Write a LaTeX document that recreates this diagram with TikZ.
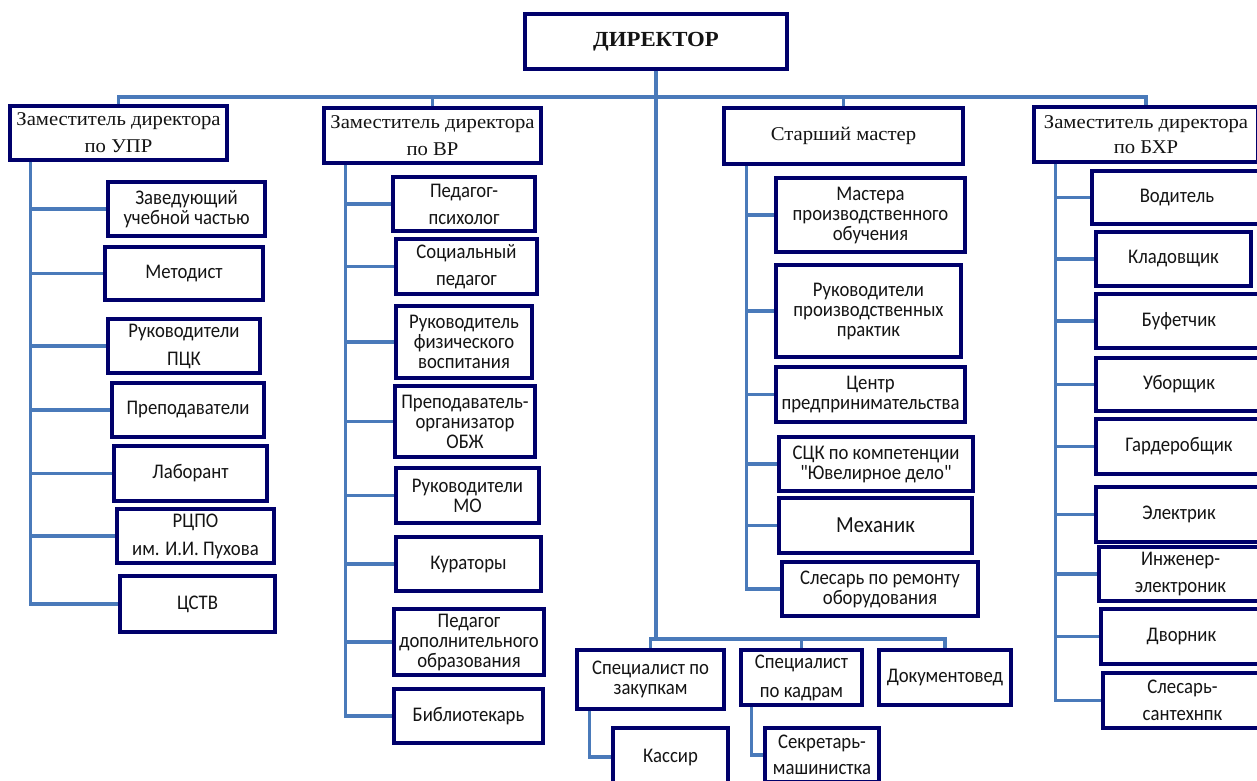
\documentclass[tikz,border=0pt]{standalone}
\usepackage{fontspec}
\setmainfont{Carlito}[FakeStretch=0.9, Ligatures=TeXOff]
\newfontfamily\hdfont{Liberation Serif}[FakeStretch=1.06]
\usetikzlibrary{calc}
\colorlet{navy}{blue!42!black}
\definecolor{lnk}{RGB}{74,122,186}
\definecolor{txt}{RGB}{20,20,20}

\begin{document}
\begin{tikzpicture}[x=1pt,y=-1pt,
    unit/.style={draw=navy, line width=3.3pt, fill=white, inner sep=0pt,
        align=center, text=txt, font=\fontsize{20.8}{20}\selectfont},
    head/.style={unit, font=\hdfont\fontsize{19.5}{27}\selectfont},
    link/.style={draw=lnk, line width=3.1pt}
]
    \useasboundingbox (0,0) rectangle (1257,780);
    \clip (0,0) rectangle (1257,780);
    % top level
    \node[unit, minimum width=262pt, minimum height=55pt,
        font=\hdfont\bfseries\fontsize{21.5}{24}\selectfont] (dir) at (656,41.5) {ДИРЕКТОР};
    \node[head, minimum width=217pt, minimum height=54pt] (upr) at (118.5,133) {Заместитель директора\\по УПР};
    \node[head, minimum width=217pt, minimum height=55pt] (vr) at (432.5,135.5) {Заместитель директора\\по ВР};
    \node[head, minimum width=239pt, minimum height=56pt] (sm) at (843.5,136) {Старший мастер};
    \node[head, minimum width=224pt, minimum height=55pt, font=\hdfont\fontsize{19.5}{25}\selectfont] (bxr) at (1146,134.5) {Заместитель директора\\по БХР};
    % column 1
    \node[unit, minimum width=157pt, minimum height=54pt] (zav) at (186.5,209) {Заведующий\\учебной частью};
    \node[unit, minimum width=158pt, minimum height=53pt] (met) at (184,273.5) {Методист};
    \node[unit, minimum width=152pt, minimum height=54pt] (pck) at (184,346) {Руководители\\[8pt]ПЦК};
    \node[unit, minimum width=152pt, minimum height=54pt] (prep) at (188,410) {Преподаватели};
    \node[unit, minimum width=153pt, minimum height=55pt] (lab) at (190.5,473.5) {Лаборант};
    \node[unit, minimum width=157pt, minimum height=54pt] (rcpo) at (195.5,536) {РЦПО\\[8pt]им. И.И. Пухова};
    \node[unit, minimum width=155pt, minimum height=56pt] (cstv) at (197.5,604) {ЦСТВ};
    % column 2
    \node[unit, minimum width=142pt, minimum height=54pt] (psy) at (464,204) {Педагог-\\[7pt]психолог};
    \node[unit, minimum width=141pt, minimum height=55pt] (soc) at (466.5,266.5) {Социальный\\[7pt]педагог};
    \node[unit, minimum width=136pt, minimum height=72pt] (fiz) at (464,342) {Руководитель\\физического\\воспитания};
    \node[unit, minimum width=140pt, minimum height=71pt] (obzh) at (465,421.5) {Преподаватель-\\организатор\\ОБЖ};
    \node[unit, minimum width=143pt, minimum height=55pt] (mo) at (467.5,495.5) {Руководители\\МО};
    \node[unit, minimum width=145pt, minimum height=54pt] (kur) at (468.5,564) {Кураторы};
    \node[unit, minimum width=150pt, minimum height=66pt] (dop) at (469,642) {Педагог\\дополнительного\\образования};
    \node[unit, minimum width=149pt, minimum height=54pt] (bib) at (468.5,716) {Библиотекарь};
    % column 3
    \node[unit, minimum width=189pt, minimum height=74pt] (mas) at (870.5,215) {Мастера\\производственного\\обучения};
    \node[unit, minimum width=185pt, minimum height=92pt] (prak) at (868.5,311) {Руководители\\производственных\\практик};
    \node[unit, minimum width=189pt, minimum height=55pt] (centr) at (870.5,394.5) {Центр\\предпринимательства};
    \node[unit, minimum width=194pt, minimum height=54pt] (sck) at (876,464) {СЦК по компетенции\\"Ювелирное дело"};
    \node[unit, minimum width=193pt, minimum height=55pt, font=\fontsize{23}{20}\selectfont] (mech) at (875.5,525.5) {Механик};
    \node[unit, minimum width=196pt, minimum height=54pt] (sles) at (880,589) {Слесарь по ремонту\\оборудования};
    % column 4
    \node[unit, minimum width=170pt, minimum height=53pt] (vod) at (1177,197.5) {Водитель};
    \node[unit, minimum width=155pt, minimum height=54pt] (klad) at (1173.5,259) {Кладовщик};
    \node[unit, minimum width=166pt, minimum height=54pt] (buf) at (1179,321) {Буфетчик};
    \node[unit, minimum width=166pt, minimum height=53pt] (ubor) at (1179,384.5) {Уборщик};
    \node[unit, minimum width=166pt, minimum height=55pt] (gard) at (1179,446.5) {Гардеробщик};
    \node[unit, minimum width=166pt, minimum height=55pt] (el) at (1179,514.5) {Электрик};
    \node[unit, minimum width=163pt, minimum height=54pt] (ing) at (1180.5,574) {Инженер-\\[7pt]электроник};
    \node[unit, minimum width=161pt, minimum height=55pt] (dvor) at (1181.5,636.5) {Дворник};
    \node[unit, minimum width=159pt, minimum height=55pt] (sant) at (1182.5,700.5) {Слесарь-\\[7pt]сантехнпк};
    % bottom group
    \node[unit, minimum width=147pt, minimum height=59pt] (zak) at (650.5,679.5) {Специалист по\\закупкам};
    \node[unit, minimum width=121pt, minimum height=55pt] (kad) at (801.5,677.5) {Специалист\\[9pt]по кадрам};
    \node[unit, minimum width=132pt, minimum height=55pt] (doc) at (945,677.5) {Документовед};
    \node[unit, minimum width=115pt, minimum height=58pt] (kas) at (670.5,757) {Кассир};
    \node[unit, minimum width=114pt, minimum height=54pt] (sek) at (822,755) {Секретарь-\\[6pt]машинистка};

    % connectors
    \coordinate (bus) at (656,97);
    \coordinate (low) at (650,639);
    \draw[link] (upr.north) |- (bus -| bxr.north) -- (bxr.north);
    \draw[link] (vr.north) -- (vr.north |- bus);
    \draw[link] (sm.north) -- (sm.north |- bus);
    \draw[link] (dir.south) -- (dir.south |- low);
    \draw[link] (zak.north) |- (doc.north |- low) -- (doc.north);
    \draw[link] (kad.north) -- (kad.north |- low);
    \draw[link] ([xshift=14pt]zak.south west) |- (kas.west);
    \draw[link] ([xshift=12pt]kad.south west) |- (sek.west);

    \coordinate (t1) at ([xshift=22pt]upr.south west);
    \coordinate (t2) at ([xshift=23pt]vr.south west);
    \coordinate (t3) at ([xshift=24pt]sm.south west);
    \coordinate (t4) at ([xshift=23pt]bxr.south west);
    \draw[link] (t1) |- (cstv.west);
    \draw[link] (t2) |- (bib.west);
    \draw[link] (t3) |- (sles.west);
    \draw[link] (t4) |- (sant.west);
    \foreach \c in {zav,met,pck,prep,lab,rcpo}
        \draw[link] (t1 |- \c.west) -- (\c.west);
    \foreach \c in {psy,soc,fiz,obzh,mo,kur,dop}
        \draw[link] (t2 |- \c.west) -- (\c.west);
    \foreach \c in {mas,prak,centr,sck,mech}
        \draw[link] (t3 |- \c.west) -- (\c.west);
    \foreach \c in {vod,klad,buf,ubor,gard,el,ing,dvor}
        \draw[link] (t4 |- \c.west) -- (\c.west);
\end{tikzpicture}
\end{document}
